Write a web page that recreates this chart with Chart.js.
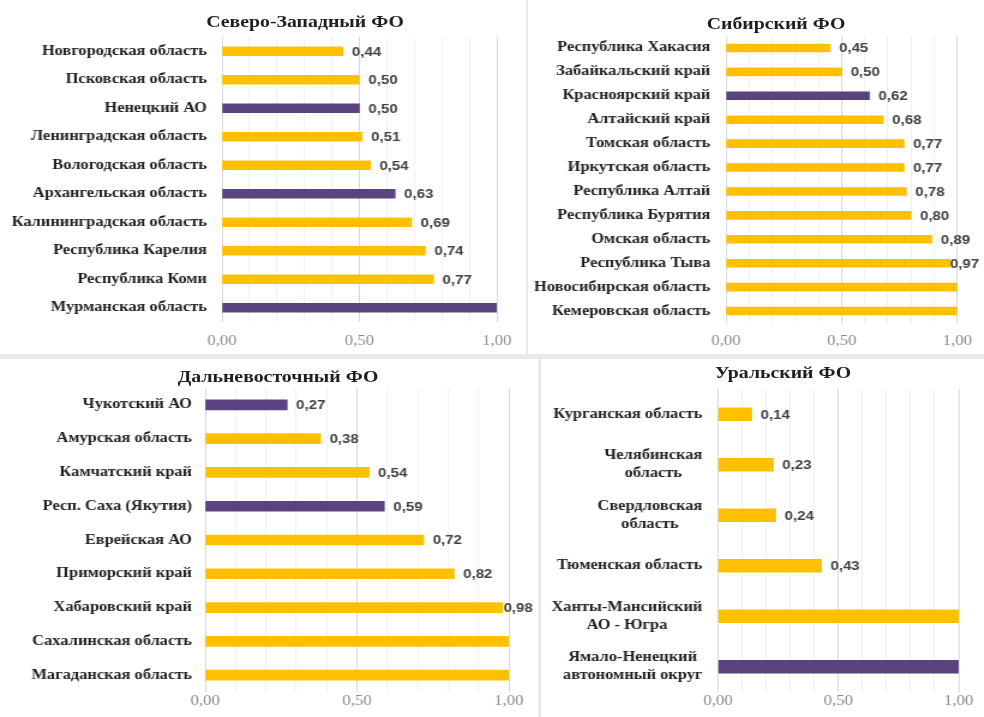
<!DOCTYPE html>
<html lang="ru">
<head>
<meta charset="utf-8">
<title>Федеральные округа</title>
<script src="https://cdn.jsdelivr.net/npm/chart.js@4.4.1/dist/chart.umd.min.js"></script>
<style>
  html, body { margin: 0; padding: 0; }
  body { width: 984px; height: 717px; background: #e9e9e9; position: relative; overflow: hidden; }
  .panel { position: absolute; background: #fff; overflow: hidden; }
  /* графики рисуются чуть уже и растягиваются по горизонтали */
  .wide { position: absolute; left: 0; top: 0; transform: scaleX(1.2); transform-origin: 0 0; }
  .ttl {
    position: absolute; transform: translate(-50%, -50%) scaleX(1.2); white-space: nowrap;
    font: bold 16.5px "Liberation Serif", "Times New Roman", serif; color: #1f1f1f;
  }
</style>
</head>
<body>

<div class="panel" style="left:0;top:0;width:526px;height:354px">
  <div class="wide"><canvas id="cNW" width="438" height="354"></canvas></div>
  <div class="ttl" style="left:305px;top:22px">Северо-Западный ФО</div>
</div>
<div class="panel" style="left:528px;top:0;width:456px;height:354px">
  <div class="wide"><canvas id="cSIB" width="380" height="354"></canvas></div>
  <div class="ttl" style="left:248px;top:24px">Сибирский ФО</div>
</div>
<div class="panel" style="left:0;top:359px;width:538px;height:358px">
  <div class="wide"><canvas id="cFE" width="448" height="358"></canvas></div>
  <div class="ttl" style="left:278px;top:18px">Дальневосточный ФО</div>
</div>
<div class="panel" style="left:541px;top:359px;width:443px;height:358px">
  <div class="wide"><canvas id="cUR" width="369" height="358"></canvas></div>
  <div class="ttl" style="left:242px;top:14px">Уральский ФО</div>
</div>

<script>
// Северо-Западный ФО
const nwRegions = ["Новгородская область", "Псковская область", "Ненецкий АО", "Ленинградская область",
  "Вологодская область", "Архангельская область", "Калининградская область", "Республика Карелия",
  "Республика Коми", "Мурманская область"];
const nwValues = [0.44, 0.50, 0.50, 0.51, 0.54, 0.63, 0.69, 0.74, 0.77, 1.00];
const nwMarked = ["Ненецкий АО", "Архангельская область", "Мурманская область"];

// Сибирский ФО
const sibRegions = ["Республика Хакасия", "Забайкальский край", "Красноярский край", "Алтайский край",
  "Томская область", "Иркутская область", "Республика Алтай", "Республика Бурятия",
  "Омская область", "Республика Тыва", "Новосибирская область", "Кемеровская область"];
const sibValues = [0.45, 0.50, 0.62, 0.68, 0.77, 0.77, 0.78, 0.80, 0.89, 0.97, 1.00, 1.00];
const sibMarked = ["Красноярский край"];

// Дальневосточный ФО
const feRegions = ["Чукотский АО", "Амурская область", "Камчатский край", "Респ. Саха (Якутия)",
  "Еврейская АО", "Приморский край", "Хабаровский край", "Сахалинская область", "Магаданская область"];
const feValues = [0.27, 0.38, 0.54, 0.59, 0.72, 0.82, 0.98, 1.00, 1.00];
const feMarked = ["Чукотский АО", "Респ. Саха (Якутия)"];

// Уральский ФО
const urRegions = ["Курганская область", ["Челябинская", "область"], ["Свердловская", "область"],
  "Тюменская область", ["Ханты-Мансийский", "АО - Югра"], ["Ямало-Ненецкий", "автономный округ"]];
const urValues = [0.14, 0.23, 0.24, 0.43, 1.00, 1.00];
const urMarked = ["Ямало-Ненецкий автономный округ"];

const axisTicks = [0, 0.5, 1];

const YELLOW = "#ffc000";
const PURPLE = "#5b4380";
const labelFont = { family: "'Liberation Serif', 'Times New Roman', serif", size: 13.7, weight: "bold" };

const fmt = v => v.toFixed(2).replace(".", ",");
const isMajor = v => axisTicks.some(t => Math.abs(t - v) < 1e-6);
const nameOf = l => Array.isArray(l) ? l.join(" ") : l;

// подписи значений справа от столбцов (1,00 и выше не подписываются);
// у самого края подпись сдвигается влево, чтобы поместиться
const valueLabels = {
  id: "valueLabels",
  afterDatasetsDraw(chart) {
    const ctx = chart.ctx;
    const data = chart.data.datasets[0].data;
    const limit = chart.width - 4;
    ctx.save();
    ctx.font = "bold 12.5px 'Liberation Sans', Arial, sans-serif";
    ctx.fillStyle = "#404040";
    ctx.textBaseline = "middle";
    ctx.textAlign = "left";
    chart.getDatasetMeta(0).data.forEach((bar, i) => {
      if (data[i] >= 1) return;
      const txt = fmt(data[i]);
      const x = Math.min(bar.x + 7.5, limit - ctx.measureText(txt).width);
      ctx.fillText(txt, x, bar.y + 1);
    });
    ctx.restore();
  }
};

// двухстрочные названия: строки центрируются друг относительно друга
const centeredNames = {
  id: "centeredNames",
  afterDraw(chart, args, opts) {
    if (!opts.enabled) return;
    const ctx = chart.ctx;
    const y = chart.scales.y;
    const right = chart.chartArea.left - opts.gap;
    ctx.save();
    ctx.font = `bold ${labelFont.size}px ${labelFont.family}`;
    ctx.fillStyle = "#1f1f1f";
    ctx.textAlign = "center";
    ctx.textBaseline = "middle";
    chart.data.labels.forEach((lbl, i) => {
      const lines = Array.isArray(lbl) ? lbl : [lbl];
      const w = Math.max(...lines.map(s => ctx.measureText(s).width));
      const cx = right - w / 2;
      const cy = y.getPixelForValue(i);
      lines.forEach((s, k) => {
        ctx.fillText(s, cx, cy + (k - (lines.length - 1) / 2) * opts.lineHeight);
      });
    });
    ctx.restore();
  }
};

function makeChart(id, regions, values, marked, g) {
  const colors = regions.map(r => marked.includes(nameOf(r)) ? PURPLE : YELLOW);
  return new Chart(document.getElementById(id), {
    type: "bar",
    data: {
      labels: regions,
      datasets: [{
        data: values,
        backgroundColor: colors,
        borderWidth: 0,
        barThickness: g.bar
      }]
    },
    options: {
      indexAxis: "y",
      responsive: false,
      animation: false,
      events: [],
      layout: { padding: { top: g.top, right: g.right, left: 0, bottom: 0 } },
      plugins: {
        legend: { display: false },
        tooltip: { enabled: false },
        centeredNames: { enabled: !!g.customNames, gap: g.gap, lineHeight: 18 }
      },
      scales: {
        x: {
          min: 0,
          max: 1,
          ticks: {
            stepSize: 0.1,
            autoSkip: false,
            maxRotation: 0,
            padding: g.tickPad,
            color: "#8a8a8a",
            font: { family: "'Liberation Serif', serif", size: 14 },
            callback: v => isMajor(v) ? fmt(v) : ""
          },
          grid: {
            drawTicks: false,
            color: c => isMajor(c.tick.value) ? "#d9d9d9" : "#f1f1f1",
            lineWidth: 1
          },
          border: { display: false },
          afterFit: s => { s.height = g.axisH; }
        },
        y: {
          ticks: {
            display: !g.customNames,
            padding: g.gap,
            color: "#1f1f1f",
            font: labelFont
          },
          grid: { display: false, drawTicks: false },
          border: { display: false },
          afterFit: s => { s.width = g.left; }
        }
      }
    },
    plugins: [valueLabels, centeredNames]
  });
}

makeChart("cNW", nwRegions, nwValues, nwMarked,
  { left: 185, right: 24, top: 37, axisH: 32, bar: 9, gap: 12.5, tickPad: 11 });
makeChart("cSIB", sibRegions, sibValues, sibMarked,
  { left: 165, right: 17.5, top: 36, axisH: 31, bar: 8, gap: 13, tickPad: 10 });
makeChart("cFE", feRegions, feValues, feMarked,
  { left: 171, right: 24, top: 29, axisH: 25, bar: 10, gap: 11, tickPad: 1 });
makeChart("cUR", urRegions, urValues, urMarked,
  { left: 147.5, right: 21, top: 30, axisH: 25, bar: 13, gap: 13, tickPad: 1, customNames: true });
</script>
</body>
</html>
